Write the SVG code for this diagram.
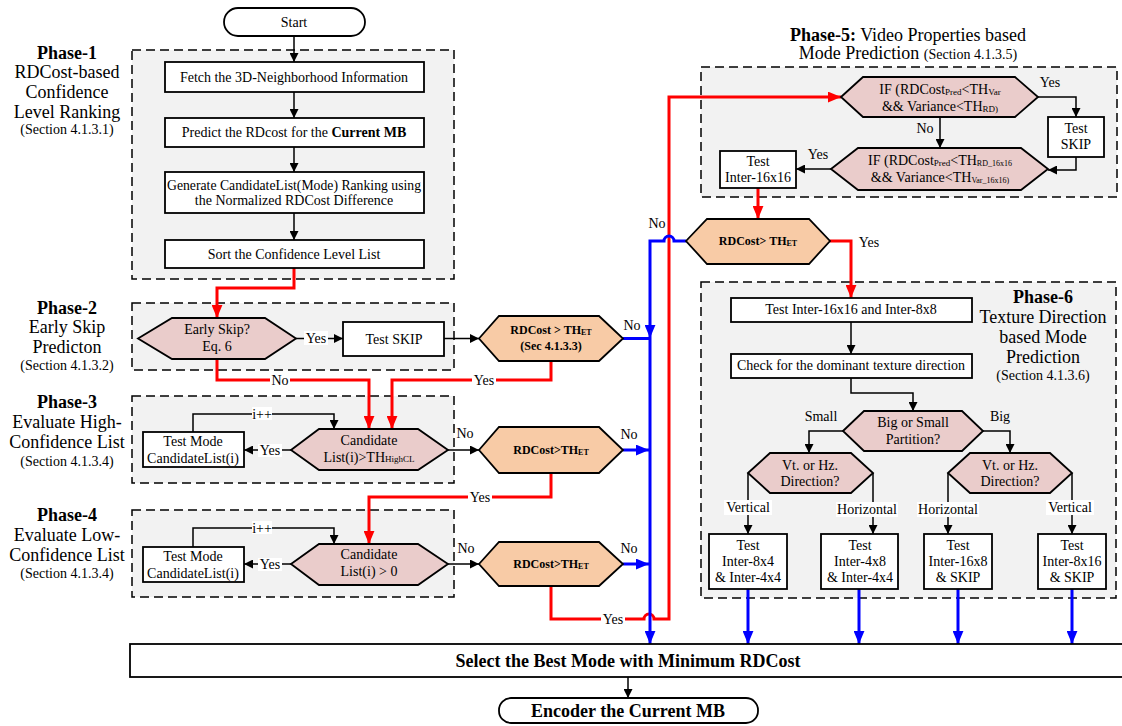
<svg xmlns="http://www.w3.org/2000/svg" width="1122" height="726" viewBox="0 0 1122 726" font-family="'Liberation Serif', 'DejaVu Serif', serif">
<style>
  .dash{fill:#f2f2f2;stroke:#000;stroke-width:1.5;stroke-dasharray:9 5}
  .box{fill:#fff;stroke:#000;stroke-width:1.8}
  .hp{fill:#eacccb;stroke:#000;stroke-width:1.8}
  .ho{fill:#f8cba6;stroke:#000;stroke-width:1.8}
  .k{fill:none;stroke:#000;stroke-width:1.5}
  .r{fill:none;stroke:#ff0000;stroke-width:3}
  .b{fill:none;stroke:#0000ff;stroke-width:3}
  .bg{fill:#fff}
  text{font-family:'Liberation Serif', 'DejaVu Serif', serif;fill:#000;text-anchor:middle}
  .t{font-size:14px}
  .ph{font-size:18px}
  .sec{font-size:14px}
  .bd{font-weight:bold}
  .rd{font-size:12px;font-weight:bold}
  .sub{font-size:9px}
  .sub8{font-size:8px}
</style>
<defs>
  <marker id="ak" viewBox="0 0 10 10" refX="10" refY="5" markerWidth="9" markerHeight="9" markerUnits="userSpaceOnUse" orient="auto"><path d="M0,0 L10,5 L0,10 Z" fill="#000"/></marker>
  <marker id="ar" viewBox="0 0 12 10" refX="12" refY="5" markerWidth="13" markerHeight="11" markerUnits="userSpaceOnUse" orient="auto"><path d="M0,0 L12,5 L0,10 Z" fill="#ff0000"/></marker>
  <marker id="ab" viewBox="0 0 12 10" refX="12" refY="5" markerWidth="13" markerHeight="11" markerUnits="userSpaceOnUse" orient="auto"><path d="M0,0 L12,5 L0,10 Z" fill="#0000ff"/></marker>
</defs>

<!-- phase panels -->
<g id="panels">
  <rect class="dash" x="132" y="50" width="322" height="229"/>
  <rect class="dash" x="132" y="303" width="322" height="67"/>
  <rect class="dash" x="132" y="396" width="322" height="87"/>
  <rect class="dash" x="132" y="510" width="322" height="87"/>
  <rect class="dash" x="701" y="67" width="416" height="130"/>
  <rect class="dash" x="701" y="282" width="415" height="316"/>
</g>

<!-- phase captions -->
<g id="phase-labels">
  <text x="67" y="59" class="ph bd">Phase-1</text>
  <text x="67" y="78" class="ph">RDCost-based</text>
  <text x="67" y="98" class="ph">Confidence</text>
  <text x="67" y="118" class="ph">Level Ranking</text>
  <text x="67" y="134" class="sec">(Section 4.1.3.1)</text>

  <text x="67" y="314" class="ph bd">Phase-2</text>
  <text x="67" y="333" class="ph">Early Skip</text>
  <text x="67" y="353" class="ph">Predicton</text>
  <text x="67" y="370" class="sec">(Section 4.1.3.2)</text>

  <text x="67" y="408" class="ph bd">Phase-3</text>
  <text x="67" y="428" class="ph">Evaluate High-</text>
  <text x="67" y="448" class="ph">Confidence List</text>
  <text x="67" y="466" class="sec">(Section 4.1.3.4)</text>

  <text x="67" y="521" class="ph bd">Phase-4</text>
  <text x="67" y="541" class="ph">Evaluate Low-</text>
  <text x="67" y="561" class="ph">Confidence List</text>
  <text x="67" y="578" class="sec">(Section 4.1.3.4)</text>

  <text x="908" y="41" class="ph"><tspan class="bd">Phase-5:</tspan> Video Properties based</text>
  <text x="908" y="59" class="ph">Mode Prediction <tspan class="sec">(Section 4.1.3.5)</tspan></text>

  <text x="1043" y="303" class="ph bd">Phase-6</text>
  <text x="1043" y="323" class="ph">Texture Direction</text>
  <text x="1043" y="343" class="ph">based Mode</text>
  <text x="1043" y="363" class="ph">Prediction</text>
  <text x="1043" y="380" class="sec">(Section 4.1.3.6)</text>
</g>

<!-- connectors -->
<g id="connectors">
  <!-- black flow -->
  <path class="k" d="M294,36 V62" marker-end="url(#ak)"/>
  <path class="k" d="M294,92 V118" marker-end="url(#ak)"/>
  <path class="k" d="M294,147 V172" marker-end="url(#ak)"/>
  <path class="k" d="M294,213 V240" marker-end="url(#ak)"/>
  <path class="k" d="M296,338.5 H343" marker-end="url(#ak)"/>
  <path class="k" d="M444,338.5 H479" marker-end="url(#ak)"/>
  <path class="k" d="M193,432 V414 H334 V429" marker-end="url(#ak)"/>
  <path class="k" d="M291,450 H244" marker-end="url(#ak)"/>
  <path class="k" d="M448,450 H479" marker-end="url(#ak)"/>
  <path class="k" d="M193,547 V528 H334 V544" marker-end="url(#ak)"/>
  <path class="k" d="M291,564 H244" marker-end="url(#ak)"/>
  <path class="k" d="M448,564 H479" marker-end="url(#ak)"/>
  <path class="k" d="M1038,97 H1076 V117" marker-end="url(#ak)"/>
  <path class="k" d="M1076,157 V170 H1048" marker-end="url(#ak)"/>
  <path class="k" d="M940,117 V148" marker-end="url(#ak)"/>
  <path class="k" d="M831,169 H796" marker-end="url(#ak)"/>
  <path class="k" d="M851,322 V354" marker-end="url(#ak)"/>
  <path class="k" d="M851,378 V393 H913 V411" marker-end="url(#ak)"/>
  <path class="k" d="M843,431 H809 V453" marker-end="url(#ak)"/>
  <path class="k" d="M983,431 H1010 V453" marker-end="url(#ak)"/>
  <path class="k" d="M748,473 V534" marker-end="url(#ak)"/>
  <path class="k" d="M873,473 V534" marker-end="url(#ak)"/>
  <path class="k" d="M948,473 V534" marker-end="url(#ak)"/>
  <path class="k" d="M1072,473 V534" marker-end="url(#ak)"/>
  <path class="k" d="M628,677 V698" marker-end="url(#ak)"/>

  <!-- red flow -->
  <path class="r" d="M294,268 V288 H217 V318" marker-end="url(#ar)"/>
  <path class="r" d="M217,359 V380 H369 V429" marker-end="url(#ar)"/>
  <path class="r" d="M551,361 V380 H392 V429" marker-end="url(#ar)"/>
  <path class="r" d="M551,473 V497 H369 V544" marker-end="url(#ar)"/>
  <path class="r" d="M551,586 V619 H644 A5,5 0 0 1 654,619 H669 V97 H841" marker-end="url(#ar)"/>
  <path class="r" d="M758,188 V219" marker-end="url(#ar)"/>
  <path class="r" d="M830,241 H851 V298" marker-end="url(#ar)"/>

  <!-- blue flow -->
  <path class="b" d="M686,241 H674 A5,5 0 0 0 664,241 H650 V338" marker-end="url(#ab)"/>
  <path class="b" d="M650,338 V644" marker-end="url(#ab)"/>
  <path class="b" d="M623,338.5 H650"/>
  <path class="b" d="M623,450 H649" marker-end="url(#ab)"/>
  <path class="b" d="M623,564 H649" marker-end="url(#ab)"/>
  <path class="b" d="M748,589 V644" marker-end="url(#ab)"/>
  <path class="b" d="M859,589 V644" marker-end="url(#ab)"/>
  <path class="b" d="M958,589 V644" marker-end="url(#ab)"/>
  <path class="b" d="M1072,589 V644" marker-end="url(#ab)"/>

  <!-- connector labels -->
  <rect class="bg" x="304" y="331" width="24" height="14"/>
  <text x="316" y="343" class="t">Yes</text>
  <rect class="bg" x="270" y="374" width="20" height="13"/>
  <text x="280" y="385" class="t">No</text>
  <rect class="bg" x="472" y="374" width="24" height="13"/>
  <text x="484" y="385" class="t">Yes</text>
  <rect class="bg" x="252" y="407" width="20" height="13"/>
  <text x="262" y="419" class="t">i++</text>
  <rect class="bg" x="258" y="444" width="24" height="13"/>
  <text x="270" y="455" class="t">Yes</text>
  <text x="465" y="438" class="t">No</text>
  <text x="629" y="439" class="t">No</text>
  <rect class="bg" x="468" y="491" width="24" height="13"/>
  <text x="480" y="502" class="t">Yes</text>
  <rect class="bg" x="252" y="521" width="20" height="13"/>
  <text x="262" y="533" class="t">i++</text>
  <rect class="bg" x="258" y="558" width="24" height="13"/>
  <text x="270" y="569" class="t">Yes</text>
  <text x="466" y="553" class="t">No</text>
  <text x="629" y="553" class="t">No</text>
  <rect class="bg" x="601" y="613" width="24" height="13"/>
  <text x="613" y="624" class="t">Yes</text>
  <text x="632" y="330" class="t">No</text>
  <text x="657" y="228" class="t">No</text>
  <text x="869" y="247" class="t">Yes</text>
  <text x="1050" y="87" class="t">Yes</text>
  <text x="925" y="133" class="t">No</text>
  <text x="818" y="159" class="t">Yes</text>
  <text x="821" y="421" class="t">Small</text>
  <text x="1000" y="421" class="t">Big</text>
  <rect class="bg" x="724" y="500" width="48" height="15"/>
  <text x="748" y="512" class="t">Vertical</text>
  <rect class="bg" x="836" y="502" width="62" height="15"/>
  <text x="867" y="514" class="t">Horizontal</text>
  <rect class="bg" x="917" y="502" width="62" height="15"/>
  <text x="948" y="514" class="t">Horizontal</text>
  <rect class="bg" x="1046" y="500" width="48" height="15"/>
  <text x="1070" y="512" class="t">Vertical</text>
</g>

<!-- terminals -->
<g id="start">
  <rect class="box" x="224" y="8" width="141" height="28" rx="14"/>
  <text x="294" y="27" class="t">Start</text>
</g>
<g id="encode-mb">
  <rect class="box" x="499" y="698" width="259" height="25" rx="12"/>
  <text x="628" y="717" class="ph bd">Encoder the Current MB</text>
</g>

<!-- Phase-1 -->
<g id="fetch-neighborhood">
  <rect class="box" x="165" y="62" width="259" height="30"/>
  <text x="294" y="82" class="t">Fetch the 3D-Neighborhood Information</text>
</g>
<g id="predict-rdcost">
  <rect class="box" x="165" y="118" width="259" height="29"/>
  <text x="294" y="137" class="t">Predict the RDcost for the <tspan class="bd">Current MB</tspan></text>
</g>
<g id="generate-list">
  <rect class="box" x="165" y="172" width="259" height="41"/>
  <text x="294" y="190" class="t" textLength="254" lengthAdjust="spacingAndGlyphs">Generate CandidateList(Mode) Ranking using</text>
  <text x="294" y="205" class="t">the Normalized RDCost Difference</text>
</g>
<g id="sort-list">
  <rect class="box" x="165" y="240" width="259" height="28"/>
  <text x="294" y="259" class="t">Sort the Confidence Level List</text>
</g>

<!-- Phase-2 -->
<g id="early-skip">
  <polygon class="hp" points="138,338.5 172,318 265,318 296,338.5 265,359 172,359"/>
  <text x="217" y="334" class="t">Early Skip?</text>
  <text x="217" y="351" class="t">Eq. 6</text>
</g>
<g id="test-skip-1">
  <rect class="box" x="343" y="322" width="101" height="34"/>
  <text x="394" y="344" class="t">Test SKIP</text>
</g>
<g id="rdcost-check-1">
  <polygon class="ho" points="479,338.5 499,316 599,316 623,338.5 599,361 499,361"/>
  <text x="551" y="334" class="rd">RDCost &gt; TH<tspan class="sub8" dy="1">ET</tspan></text>
  <text x="551" y="350" class="rd">(Sec 4.1.3.3)</text>
</g>

<!-- Phase-3 -->
<g id="high-cl-check">
  <polygon class="hp" points="291,450 319,429 418,429 448,450 418,470 319,470"/>
  <text x="369" y="445" class="t">Candidate</text>
  <text x="369" y="462" class="t">List(i)&gt;TH<tspan class="sub">HighCL</tspan></text>
</g>
<g id="test-mode-high">
  <rect class="box" x="143" y="432" width="101" height="35"/>
  <text x="193" y="446" class="t">Test Mode</text>
  <text x="193" y="463" class="t">CandidateList(i)</text>
</g>
<g id="rdcost-check-2">
  <polygon class="ho" points="479,450 499,427 599,427 623,450 599,473 499,473"/>
  <text x="551" y="454" class="rd">RDCost&gt;TH<tspan class="sub8" dy="1">ET</tspan></text>
</g>

<!-- Phase-4 -->
<g id="low-cl-check">
  <polygon class="hp" points="291,564 319,544 418,544 448,564 418,585 319,585"/>
  <text x="369" y="559" class="t">Candidate</text>
  <text x="369" y="576" class="t">List(i) &gt; 0</text>
</g>
<g id="test-mode-low">
  <rect class="box" x="143" y="547" width="101" height="35"/>
  <text x="193" y="561" class="t">Test Mode</text>
  <text x="193" y="578" class="t">CandidateList(i)</text>
</g>
<g id="rdcost-check-3">
  <polygon class="ho" points="479,564 499,542 599,542 623,564 599,586 499,586"/>
  <text x="551" y="568" class="rd">RDCost&gt;TH<tspan class="sub8" dy="1">ET</tspan></text>
</g>

<!-- Phase-5 -->
<g id="var-check">
  <polygon class="hp" points="841,97 863,77 1015,77 1038,97 1015,117 863,117"/>
  <text x="940" y="94" class="t">IF (RDCost<tspan class="sub" dy="1">Pred</tspan><tspan dy="-1">&lt;TH</tspan><tspan class="sub" dy="1">Var</tspan></text>
  <text x="940" y="111" class="t">&amp;&amp; Variance&lt;TH<tspan class="sub" dy="1">RD)</tspan></text>
</g>
<g id="test-skip-2">
  <rect class="box" x="1048" y="117" width="56" height="40"/>
  <text x="1076" y="133" class="t">Test</text>
  <text x="1076" y="149" class="t">SKIP</text>
</g>
<g id="var16-check">
  <polygon class="hp" points="831,169 858,148 1021,148 1048,169 1021,190 858,190"/>
  <text x="940" y="165" class="t">IF (RDCost<tspan class="sub" dy="1">Pred</tspan><tspan dy="-1">&lt;TH</tspan><tspan class="sub8" dy="1">RD_16x16</tspan></text>
  <text x="940" y="182" class="t">&amp;&amp; Variance&lt;TH<tspan class="sub8" dy="1">Var_16x16)</tspan></text>
</g>
<g id="test-inter16">
  <rect class="box" x="720" y="151" width="76" height="37"/>
  <text x="758" y="166" class="t">Test</text>
  <text x="758" y="182" class="t">Inter-16x16</text>
</g>
<g id="rdcost-check-4">
  <polygon class="ho" points="686,241 707,219 809,219 830,241 809,264 707,264"/>
  <text x="758" y="245" class="rd">RDCost&gt; TH<tspan class="sub8" dy="1">ET</tspan></text>
</g>

<!-- Phase-6 -->
<g id="test-16-8">
  <rect class="box" x="731" y="298" width="241" height="24"/>
  <text x="851" y="314" class="t">Test Inter-16x16 and Inter-8x8</text>
</g>
<g id="texture-dir">
  <rect class="box" x="731" y="354" width="241" height="24"/>
  <text x="851" y="370" class="t">Check for the dominant texture direction</text>
</g>
<g id="partition-check">
  <polygon class="hp" points="843,431 864,411 962,411 983,431 962,451 864,451"/>
  <text x="913" y="427" class="t">Big or Small</text>
  <text x="913" y="444" class="t">Partition?</text>
</g>
<g id="dir-small">
  <polygon class="hp" points="748,473 770,453 851,453 873,473 851,493 770,493"/>
  <text x="810" y="470" class="t">Vt. or Hz.</text>
  <text x="810" y="486" class="t">Direction?</text>
</g>
<g id="dir-big">
  <polygon class="hp" points="948,473 970,453 1050,453 1072,473 1050,493 970,493"/>
  <text x="1010" y="470" class="t">Vt. or Hz.</text>
  <text x="1010" y="486" class="t">Direction?</text>
</g>
<g id="test-8x4">
  <rect class="box" x="709" y="534" width="78" height="55"/>
  <text x="748" y="550" class="t">Test</text>
  <text x="748" y="566" class="t">Inter-8x4</text>
  <text x="748" y="582" class="t">&amp; Inter-4x4</text>
</g>
<g id="test-4x8">
  <rect class="box" x="821" y="534" width="77" height="55"/>
  <text x="860" y="550" class="t">Test</text>
  <text x="860" y="566" class="t">Inter-4x8</text>
  <text x="860" y="582" class="t">&amp; Inter-4x4</text>
</g>
<g id="test-16x8">
  <rect class="box" x="924" y="534" width="68" height="55"/>
  <text x="958" y="550" class="t">Test</text>
  <text x="958" y="566" class="t">Inter-16x8</text>
  <text x="958" y="582" class="t">&amp; SKIP</text>
</g>
<g id="test-8x16">
  <rect class="box" x="1038" y="534" width="68" height="55"/>
  <text x="1072" y="550" class="t">Test</text>
  <text x="1072" y="566" class="t">Inter-8x16</text>
  <text x="1072" y="582" class="t">&amp; SKIP</text>
</g>

<!-- final selection -->
<g id="select-best">
  <rect class="box" x="130" y="644" width="1000" height="33"/>
  <text x="628" y="667" class="ph bd">Select the Best Mode with Minimum RDCost</text>
</g>
</svg>
